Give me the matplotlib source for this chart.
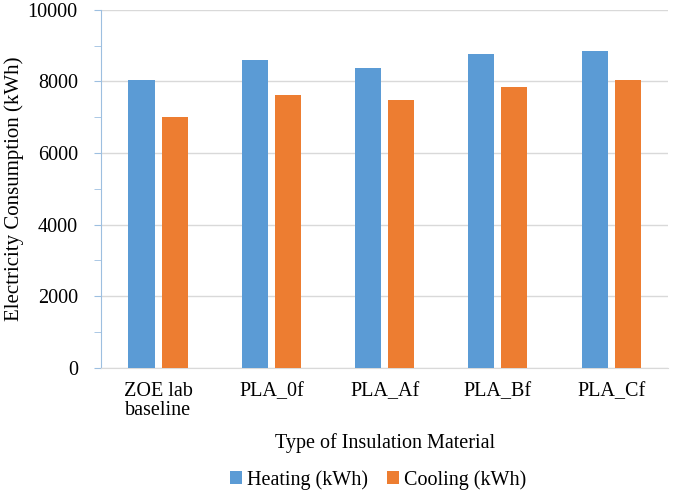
import numpy as np
import matplotlib
matplotlib.use('Agg')
import matplotlib.pyplot as plt
from matplotlib.ticker import MultipleLocator

# data
categories = ['ZOE lab\nbaseline', 'PLA_0f', 'PLA_Af', 'PLA_Bf', 'PLA_Cf']
heating = [8030, 8590, 8390, 8760, 8840]
cooling = [7010, 7630, 7470, 7845, 8030]
series_labels = ['Heating (kWh)', 'Cooling (kWh)']

plt.rcParams['font.family'] = ['Liberation Serif', 'DejaVu Serif']

fig = plt.figure(figsize=(6.85, 4.95), dpi=100)
ax = fig.add_axes([0.148, 0.257, 0.827, 0.723])

x = np.arange(len(categories))
w = 0.23
ax.bar(x - 0.146, heating, w, color='#5B9BD5', label=series_labels[0], zorder=3)
ax.bar(x + 0.146, cooling, w, color='#ED7D31', label=series_labels[1], zorder=3)

ax.set_xlim(-0.5, len(categories) - 0.5)
ax.set_ylim(0, 10000)
ax.yaxis.set_major_locator(MultipleLocator(2000))
ax.yaxis.set_minor_locator(MultipleLocator(1000))
ax.grid(axis='y', which='major', color='#d9d9d9', lw=1, zorder=0)

for s in ['top', 'right']:
	ax.spines[s].set_visible(False)
ax.spines['left'].set_color('#9dbfe0')
ax.spines['bottom'].set_color('#d9d9d9')

ax.tick_params(axis='y', which='major', length=5, color='#9dbfe0', labelsize=14.5, pad=12)
ax.tick_params(axis='y', which='minor', length=5, color='#9dbfe0')
ax.tick_params(axis='x', length=0, labelsize=14.5, pad=10)
ax.set_xticks(x)
ax.set_xticklabels(categories, linespacing=1.05)

ax.set_ylabel('Electricity Consumption (kWh)', fontsize=15)
ax.yaxis.set_label_coords(-0.136, 0.5)
ax.set_xlabel('Type of Insulation Material', fontsize=14.5, labelpad=9)

fig.legend(loc='lower center', bbox_to_anchor=(0.552, -0.026), ncol=2, frameon=False,
	fontsize=14.5, handlelength=0.6, handleheight=0.6, handletextpad=0.25, columnspacing=0.9)

fig.savefig('out.png', dpi=100)
